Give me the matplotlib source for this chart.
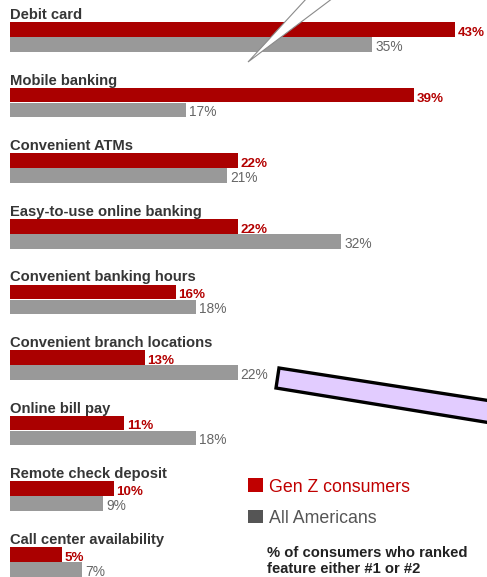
import matplotlib
matplotlib.use("Agg")
import matplotlib.pyplot as plt
from matplotlib.patches import Polygon, Rectangle

categories = ["Debit card", "Mobile banking", "Convenient ATMs", "Easy-to-use online banking",
              "Convenient banking hours", "Convenient branch locations", "Online bill pay",
              "Remote check deposit", "Call center availability"]
genz = [43, 39, 22, 22, 16, 13, 11, 10, 5]
all_am = [35, 17, 21, 32, 18, 22, 18, 9, 7]
legend_labels = ["Gen Z consumers", "All Americans"]
note_lines = ["% of consumers who ranked", "feature either #1 or #2"]

RED = "#aa0000"
GRAY = "#999999"
DARK_GRAY = "#555555"
LABEL = "#363636"
FAM = ["Liberation Sans", "DejaVu Sans"]

W, H = 487, 577
fig = plt.figure(figsize=(W / 100, H / 100), dpi=100)
ax = fig.add_axes([0, 0, 1, 1])

PX_PER_PCT = 10.35
GROUP_PX = 65.6
left_px = 10
red_center_px = 29.5
ax.set_xlim(-left_px / PX_PER_PCT, (W - left_px) / PX_PER_PCT)
ax.set_ylim((H - red_center_px) / GROUP_PX, -red_center_px / GROUP_PX)
ax.axis("off")

bh = 14.6 / GROUP_PX
off = 15 / GROUP_PX
ys = list(range(len(categories)))
ax.barh(ys, genz, height=bh, color=RED, linewidth=0)
ax.barh([y + off for y in ys], all_am, height=bh, color=GRAY, linewidth=0)

gap = 3 / PX_PER_PCT
voff = 6.4 / GROUP_PX
for y, cat, g, a in zip(ys, categories, genz, all_am):
    ax.text(0, y - 10.5 / GROUP_PX, cat, fontsize=10.6, fontweight="bold", color=LABEL,
            family=FAM, va="baseline", ha="left")
    ax.text(g + gap, y + voff, f"{g}%", fontsize=9.6, fontweight="semibold", color="#b30000",
            family=FAM, va="baseline", ha="left")
    ax.text(a + gap, y + off + voff, f"{a}%", fontsize=9.9, color="#666666",
            family=FAM, va="baseline", ha="left")

# overlay in pixel coordinates for decorations, legend and note
ov = fig.add_axes([0, 0, 1, 1])
ov.set_xlim(0, W)
ov.set_ylim(H, 0)
ov.axis("off")
ov.patch.set_alpha(0)

ov.add_patch(Polygon([(248, 62), (307, -2), (333, -2)], closed=True, facecolor="white",
                     edgecolor="#8a8a8a", linewidth=0.8, zorder=5))
ov.add_patch(Polygon([(279, 368), (620, 421), (620, 444), (276, 388)], closed=True,
                     facecolor="#e2ccff", edgecolor="black", linewidth=2.4, joinstyle="miter",
                     zorder=5))

ov.add_patch(Rectangle((248, 478), 15, 14, facecolor="#c00000", linewidth=0))
ov.add_patch(Rectangle((248, 510), 15, 13, facecolor=DARK_GRAY, linewidth=0))
ov.text(269, 492, legend_labels[0], fontsize=12.8, color="#c00000",
        family=FAM, va="baseline", ha="left")
ov.text(269, 523, legend_labels[1], fontsize=12.8, color=DARK_GRAY,
        family=FAM, va="baseline", ha="left")
ov.text(267, 557, note_lines[0], fontsize=10.6, fontweight="bold", color="#222222",
        family=FAM, va="baseline", ha="left")
ov.text(267, 573, note_lines[1], fontsize=10.6, fontweight="bold", color="#222222",
        family=FAM, va="baseline", ha="left")

fig.savefig("out.png", dpi=100)
